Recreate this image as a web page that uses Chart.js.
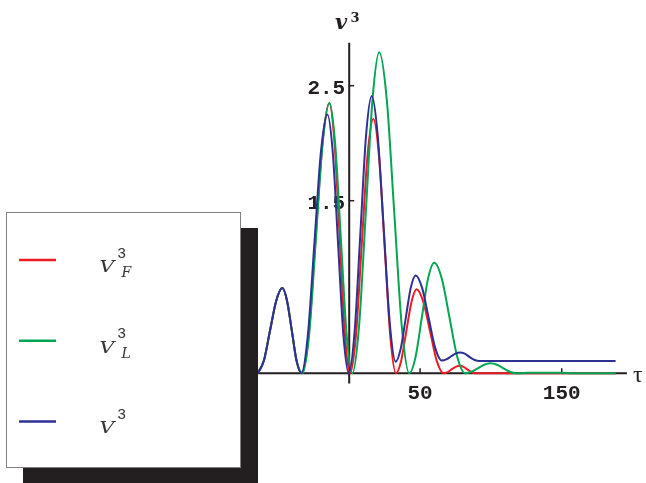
<!DOCTYPE html>
<html>
<head>
<meta charset="utf-8">
<script src="https://cdn.jsdelivr.net/npm/chart.js@4/dist/chart.umd.min.js"></script>
<style>
  body { margin: 0; background: #fff; }
  canvas { display: block; }
</style>
</head>
<body>
<canvas id="plot" width="646" height="483"></canvas>
<script>
// τ positions and values, one pair of arrays per curve
const tauF = [-64.5, -60.2, -55.9, -51.5, -47.2, -43.9, -40.5, -37.2, -33.4, -28.55, -23.7, -18.85, -14, -10.35, -6.7, -3.05, 0.6, 4.7, 8.8, 12.9, 17, 21, 25, 29, 33, 36.65, 40.3, 43.95, 47.6, 52.3, 57.05, 61.8, 66.5, 69.4, 72.2, 75.1, 78, 80.7, 83.4, 86.1, 88.8, 188];
const vF = [0, 0.11, 0.37, 0.63, 0.74, 0.63, 0.37, 0.11, 0, 0.34, 1.175, 2.0, 2.35, 2.0, 1.175, 0.34, 0, 0.32, 1.105, 1.89, 2.21, 1.89, 1.105, 0.32, 0, 0.107, 0.365, 0.62, 0.73, 0.62, 0.365, 0.107, 0, 0.01, 0.033, 0.055, 0.065, 0.055, 0.033, 0.01, 0, 0];

const tauL = [-64.5, -60.2, -55.9, -51.5, -47.2, -43.9, -40.5, -37.2, -33, -28.25, -23.5, -18.75, -14, -9.95, -5.9, -1.85, 2.2, 6.95, 11.7, 16.45, 21.2, 26.5, 31.8, 37.1, 42.4, 46.8, 51.2, 55.6, 60, 65.4, 70.85, 76.3, 81.7, 86.2, 90.75, 95.3, 99.8, 104.35, 108.9, 113.45, 118, 126, 138, 150, 160, 188];
const vL = [0, 0.11, 0.37, 0.63, 0.74, 0.63, 0.37, 0.11, 0, 0.34, 1.175, 2.0, 2.35, 2.0, 1.175, 0.34, 0, 0.41, 1.395, 2.38, 2.79, 2.38, 1.395, 0.41, 0, 0.14, 0.48, 0.82, 0.96, 0.82, 0.48, 0.14, 0, 0.0125, 0.043, 0.073, 0.086, 0.073, 0.043, 0.0125, 0, 0.003, 0.005, 0.003, 0, 0];

const tauV = [-64.5, -60.2, -55.9, -51.5, -47.2, -43.9, -40.5, -37.2, -33.8, -29.2, -24.6, -20, -15.4, -11.6, -7.85, -4.1, -0.3, 3.75, 7.8, 11.85, 15.9, 20.1, 24.35, 28.6, 32.8, 36.3, 39.85, 43.4, 46.9, 51.5, 56.1, 60.7, 65.3, 68.5, 71.7, 75, 78.2, 81.5, 85, 88.5, 92, 100, 188];
const vV = [0, 0.11, 0.37, 0.63, 0.74, 0.63, 0.37, 0.11, 0, 0.33, 1.125, 1.92, 2.25, 1.92, 1.125, 0.33, 0, 0.35, 1.2, 2.06, 2.41, 2.07, 1.26, 0.44, 0.10, 0.21, 0.475, 0.74, 0.85, 0.74, 0.48, 0.22, 0.11, 0.12, 0.145, 0.17, 0.18, 0.17, 0.14, 0.115, 0.106, 0.106, 0.106];

const xTicks = [50, 150];
const yTicks = [1.5, 2.5];
const legendSub = ['F', 'L', ''];
const colors = ['#ed1c24', '#00a651', '#2e3192'];
const ink = '#231f20';

const pts = (xs, ys) => xs.map((x, i) => ({ x: x, y: ys[i] }));

function curve(label, data, color, order) {
    return {
        label: label,
        data: data,
        borderColor: color,
        borderWidth: 2,
        pointRadius: 0,
        fill: false,
        order: order, // blue on top, red at the bottom
        cubicInterpolationMode: 'monotone'
    };
}

// axes through the origin, drawn under the curves
const axesPlugin = {
    id: 'axes',
    beforeDatasetsDraw(chart) {
        const ctx = chart.ctx;
        const sx = chart.scales.x, sy = chart.scales.y;
        const x0 = sx.getPixelForValue(0), y0 = sy.getPixelForValue(0);
        ctx.save();
        ctx.strokeStyle = ink;
        ctx.fillStyle = ink;
        ctx.lineWidth = 2;
        ctx.beginPath();
        ctx.moveTo(chart.chartArea.left, y0);
        ctx.lineTo(sx.getPixelForValue(sx.max), y0);
        ctx.moveTo(x0, sy.getPixelForValue(sy.max));
        ctx.lineTo(x0, sy.getPixelForValue(-0.09));
        ctx.stroke();

        ctx.lineWidth = 1.5;
        ctx.font = 'bold 21px "Liberation Mono"';
        ctx.textAlign = 'center';
        ctx.textBaseline = 'alphabetic';
        xTicks.forEach(t => {
            const px = sx.getPixelForValue(t);
            ctx.beginPath();
            ctx.moveTo(px, y0);
            ctx.lineTo(px, y0 - 5);
            ctx.stroke();
            ctx.fillText(String(t), px, y0 + 25.5);
        });
        ctx.textAlign = 'right';
        yTicks.forEach(t => {
            const py = sy.getPixelForValue(t);
            ctx.beginPath();
            ctx.moveTo(x0, py);
            ctx.lineTo(x0 + 5, py);
            ctx.stroke();
            ctx.fillText(String(t), x0 - 4, py + 8.5);
        });

        // axis names
        ctx.textAlign = 'left';
        ctx.font = 'bold italic 21px "DejaVu Serif"';
        ctx.fillText('v', 335, 28.5);
        ctx.font = 'bold 13px "DejaVu Serif"';
        ctx.fillText('3', 350.5, 22);
        ctx.font = '24px "Liberation Serif"';
        ctx.fillText('τ', 633, 381.5);
        ctx.restore();
    },
    afterDraw(chart) {
        const ctx = chart.ctx;
        ctx.save();
        // legend with drop shadow
        ctx.fillStyle = ink;
        ctx.fillRect(23, 228, 235, 255);
        ctx.fillStyle = '#fff';
        ctx.fillRect(6, 212, 235, 256);
        ctx.strokeStyle = '#808080';
        ctx.lineWidth = 1;
        ctx.strokeRect(6.5, 212.5, 234, 255);

        chart.data.datasets.forEach((ds, i) => {
            const y = 260 + i * 80.7;
            ctx.strokeStyle = ds.borderColor;
            ctx.lineWidth = 2.5;
            ctx.beginPath();
            ctx.moveTo(19, y);
            ctx.lineTo(56, y);
            ctx.stroke();

            ctx.fillStyle = '#333';
            ctx.textAlign = 'left';
            ctx.save();
            ctx.translate(99.5, y + 12);
            ctx.scale(1.2, 1);
            ctx.font = 'italic 17px "DejaVu Serif"';
            ctx.fillText('V', 0, 0);
            ctx.restore();
            ctx.font = '15px "Liberation Sans"';
            ctx.fillText('3', 117.5, y - 2.3);
            if (legendSub[i]) {
                ctx.font = 'italic 14px "DejaVu Serif"';
                ctx.fillText(legendSub[i], 121.5, y + 16.8);
            }
        });
        ctx.restore();
    }
};

new Chart(document.getElementById('plot'), {
    type: 'line',
    data: {
        datasets: [
            curve('V³F', pts(tauF, vF), colors[0], 3),
            curve('V³L', pts(tauL, vL), colors[1], 2),
            curve('V³', pts(tauV, vV), colors[2], 1)
        ]
    },
    options: {
        responsive: false,
        animation: false,
        layout: { padding: { left: 255.7, right: 19.1, top: 42.7, bottom: 75.3 } },
        scales: {
            x: { type: 'linear', min: -66, max: 196, display: false },
            y: { type: 'linear', min: -0.3, max: 2.874, display: false }
        },
        plugins: {
            legend: { display: false },
            tooltip: { enabled: false }
        }
    },
    plugins: [axesPlugin]
});
</script>
</body>
</html>
